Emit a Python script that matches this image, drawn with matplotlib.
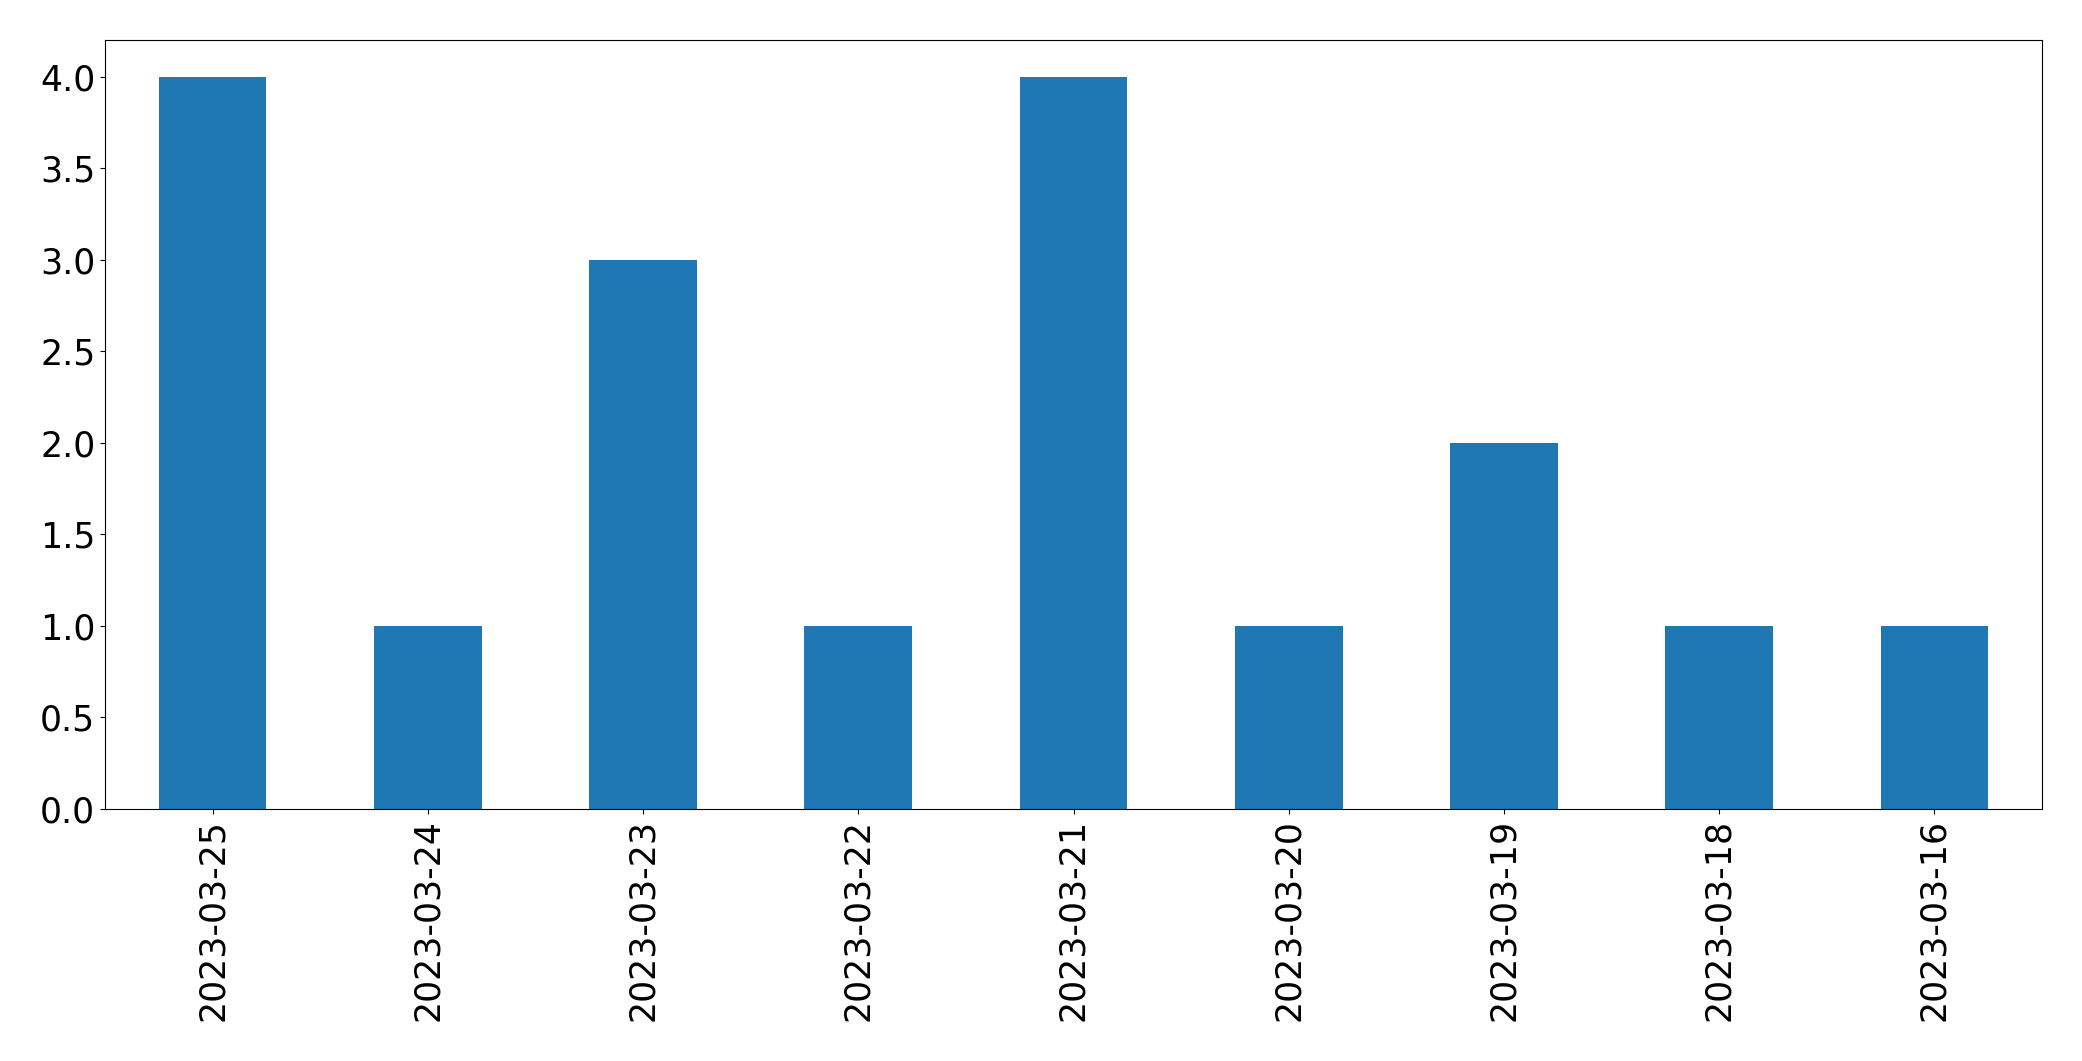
import matplotlib
matplotlib.use("Agg")
import matplotlib.pyplot as plt

dates = ["2023-03-25", "2023-03-24", "2023-03-23", "2023-03-22", "2023-03-21",
         "2023-03-20", "2023-03-19", "2023-03-18", "2023-03-16"]
counts = [4, 1, 3, 1, 4, 1, 2, 1, 1]

fig = plt.figure(figsize=(20.82, 10.61), dpi=100)
ax = fig.add_axes([105/2082, 1 - 809/1061, (2042-105)/2082, (809-40)/1061])
x = list(range(len(dates)))
ax.bar(x, counts, width=0.5, color="#1f77b4")
ax.set_xlim(-0.5, len(dates) - 0.5)
ax.set_ylim(0, 4.2)
ax.set_xticks(x)
ax.set_xticklabels(dates, rotation=90)
ax.tick_params(labelsize=25)
fig.savefig("out.png", dpi=100)
